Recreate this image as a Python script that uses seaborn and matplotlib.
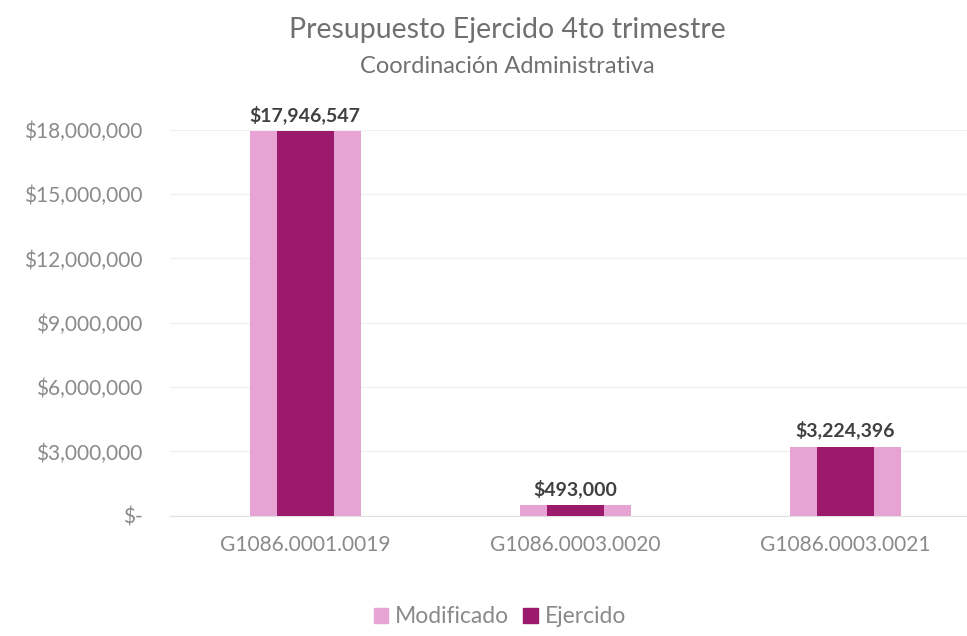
import matplotlib
matplotlib.use("Agg")
import matplotlib.pyplot as plt
import matplotlib.ticker as mticker
from matplotlib.patches import Patch
import seaborn as sns
import pandas as pd

categorias = ["G1086.0001.0019", "G1086.0003.0020", "G1086.0003.0021"]
modificado = [17946547, 493000, 3224396]
ejercido = [17946547, 493000, 3224396]
yticks = [0, 3000000, 6000000, 9000000, 12000000, 15000000, 18000000]

sns.set_style("white")
plt.rcParams["font.family"] = ["Lato", "DejaVu Sans"]

df = pd.DataFrame({"cat": categorias, "Modificado": modificado, "Ejercido": ejercido})

col_mod = "#e6a3d4"
col_eje = "#9c1a6c"
gris = "#8a8a8a"

fig = plt.figure(figsize=(9.67, 6.36), dpi=100)
ax = fig.add_axes([0.176, 0.189, 0.838, 0.607])

sns.barplot(data=df, x="cat", y="Modificado", color=col_mod, width=0.41,
            saturation=1, linewidth=0, ax=ax, zorder=2)
sns.barplot(data=df, x="cat", y="Ejercido", color=col_eje, width=0.21,
            saturation=1, linewidth=0, ax=ax, zorder=3)

ax.set_ylim(0, 18000000)
ax.set_xlim(-0.5, 2.5)
ax.set_yticks(yticks)


def fmt(v, pos):
    if v == 0:
        return "$-"
    return "${:,.0f}".format(v)


ax.yaxis.set_major_formatter(mticker.FuncFormatter(fmt))
ax.yaxis.grid(True, color="#f0f0f0", linewidth=1, zorder=0)
ax.set_axisbelow(True)
for s in ["top", "right", "left"]:
    ax.spines[s].set_visible(False)
ax.spines["bottom"].set_color("#e0e0e0")
ax.tick_params(axis="y", labelsize=15, colors=gris, length=0, pad=20)
ax.tick_params(axis="x", labelsize=15, colors=gris, length=0, pad=14)
ax.set_xlabel("")
ax.set_ylabel("")

for i, v in enumerate(ejercido):
    ax.annotate("${:,.0f}".format(v), (i, v), xytext=(0, 5),
                textcoords="offset points", ha="center", va="bottom",
                fontsize=14, fontweight="bold", color="#404040",
                annotation_clip=False)

fig.text(0.525, 0.953, "Presupuesto Ejercido 4to trimestre", ha="center",
         va="center", fontsize=20.5, color="#707070")
fig.text(0.525, 0.896, "Coordinación Administrativa", ha="center",
         va="center", fontsize=17, color="#707070")

handles = [Patch(color=col_mod, label="Modificado"),
           Patch(color=col_eje, label="Ejercido")]
leg = fig.legend(handles=handles, loc="center", bbox_to_anchor=(0.517, 0.03),
                 ncol=2, frameon=False, fontsize=16.5, handlelength=0.65,
                 handleheight=0.65, handletextpad=0.3, columnspacing=0.6)
for t in leg.get_texts():
    t.set_color(gris)

fig.savefig("out.png", dpi=100)
